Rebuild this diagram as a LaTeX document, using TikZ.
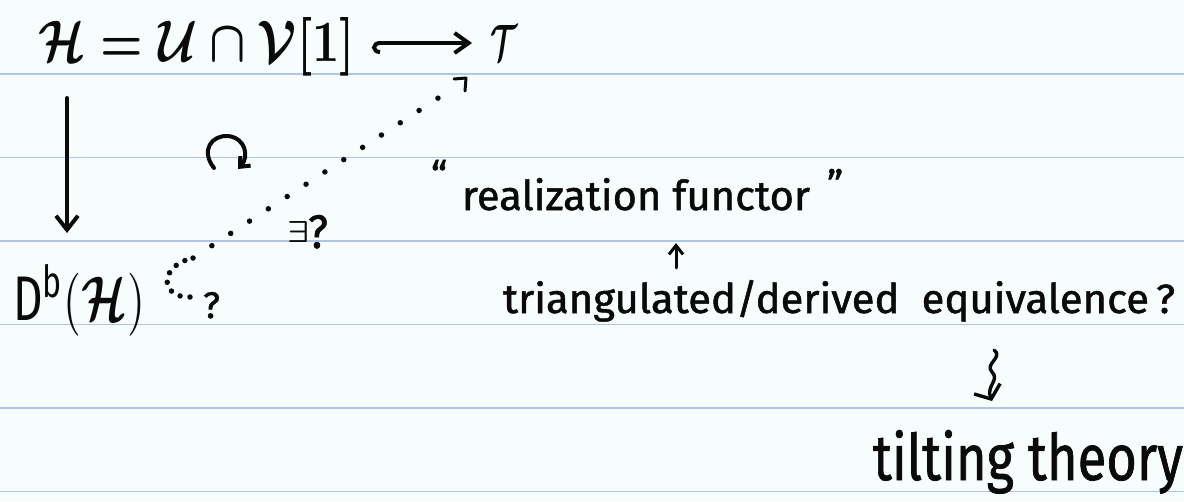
\documentclass[tikz,border=0pt]{standalone}
\usepackage{amsmath}
\usepackage{fontspec}
\setmainfont{Fira Sans}
\usepackage{graphicx}
\usetikzlibrary{arrows.meta}
\definecolor{paper}{RGB}{247,253,253}
\definecolor{rulecol}{RGB}{176,196,228}
\definecolor{ink}{RGB}{10,10,10}
\begin{document}
\begin{tikzpicture}[x=1pt,y=-1pt,
  txt/.style={inner sep=0pt, outer sep=0pt, anchor=base west, text=ink, font=\addfontfeatures{FakeBold=1.2}},
  pen/.style={draw=ink, line width=4pt, line cap=round, line join=round},
  tipv/.style={-{Straight Barb[length=14pt,width=22pt]}},
  tips/.style={-{Straight Barb[length=9pt,width=14pt]}},
  ruling/.style={draw=rulecol, line width=1.4pt},
  dotline/.style={draw=ink, line width=5.5pt, line cap=round}]
\useasboundingbox (0,0) rectangle (1184,501);
\fill[paper] (0,0) rectangle (1184,501);
\foreach \yy in {74,157.5,241,324.5,408,491.5}
  \draw[ruling] (0,\yy) -- (1184,\yy);

% top row
\node[txt] (eq) at (38,61) {\resizebox{317pt}{44pt}{$\boldsymbol{\mathcal{H}=\mathcal{U}\cap\mathcal{V}[1]}$}};
\node[txt] (T) at (490,60) {\resizebox{27pt}{35pt}{$\boldsymbol{\mathcal{T}}$}};
\coordinate (h1) at (372,43);
\coordinate (h2) at (472,43);
\draw[pen, {Hooks[width=22pt,length=8pt,left]}-{Straight Barb[length=14pt,width=20pt]}] (h1) -- (h2);

% vertical arrow
\node[txt] (D) at (13,320) {\resizebox{132pt}{56pt}{$\mathrm{D}^{\mathrm{b}}(\boldsymbol{\mathcal{H}})$}};
\coordinate (v1) at (67,98);
\coordinate (v2) at (67,233);
\draw[pen, tipv] (v1) -- (v2);

% commuting symbol
\coordinate (c1) at (214,168);
\coordinate (c2) at (238,169);
\draw[pen, -{Straight Barb[length=8pt,width=14pt]}] (c1) .. controls (200,150) and (212,135) .. (228,136) .. controls (246,138) and (249,157) .. (c2);

% dotted arrow
\coordinate (d0) at (190,297);
\coordinate (d1) at (193,258);
\coordinate (d2) at (452,89);
\draw[dotline, dash pattern=on 0pt off 10pt] (d0) .. controls (160,298) and (158,266) .. (d1);
\draw[dotline, dash pattern=on 0pt off 22.5pt] (d1) -- (d2);
\coordinate (dt) at (466,78);
\draw[pen, line width=3pt] (454,79) -- (dt) -- (465,91);

\node[txt] (ex) at (287,242) {\resizebox{22pt}{21pt}{$\boldsymbol{\exists}$}};
\node[txt] (q2) at (308,248) {\resizebox{20pt}{33pt}{?}};
\node[txt] (q1) at (203,318) {\resizebox{17pt}{26pt}{?}};

% realization functor
\node[txt] (oq) at (431,190) {\fontsize{40}{40}\selectfont ``};
\node[txt] (rf) at (462,210) {\resizebox{348pt}{32pt}{realization functor}};
\node[txt] (cq) at (827,199) {\fontsize{40}{40}\selectfont ''};

\coordinate (u1) at (676,268);
\coordinate (u2) at (676,243);
\draw[pen, line width=3pt, tips] (u1) -- (u2);

\node[txt] (tde) at (503,313) {\resizebox{672pt}{33pt}{triangulated/derived\ \ equivalence\,?}};

\coordinate (s1) at (994,350);
\coordinate (s2) at (992,401);
\draw[pen, line width=3.4pt, -{Straight Barb[length=11pt,width=28pt]}] (s1) .. controls (1004,357) and (984,364) .. (992,372) .. controls (1000,380) and (986,386) .. (s2);

\node[txt] (tt) at (873,480) {\resizebox{310pt}{50pt}{tilting theory}};
\end{tikzpicture}
\end{document}
